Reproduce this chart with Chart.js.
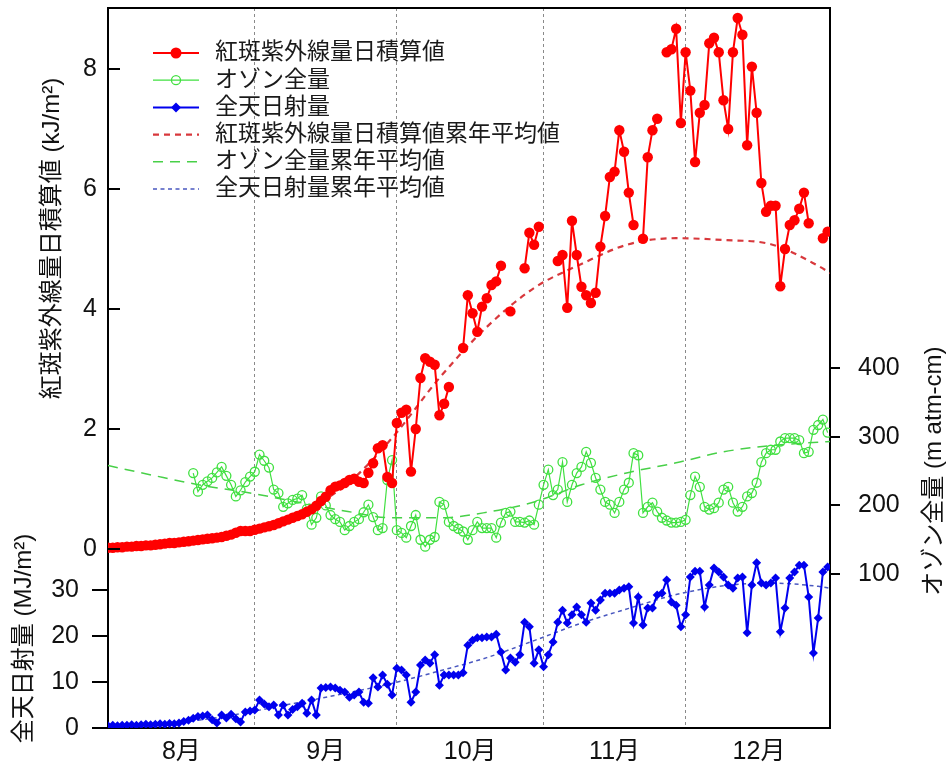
<!DOCTYPE html>
<html><head><meta charset="utf-8">
<script src="https://cdn.jsdelivr.net/npm/chart.js@4.4.0/dist/chart.umd.min.js"></script>
<style>html,body{margin:0;padding:0;background:#fff;}#wrap{width:948px;height:773px;position:relative;}</style>
</head><body><div id="wrap"><canvas id="c"></canvas></div>
<script>
// ---- data (day index 0 = 1 Aug) ----
const monthLabels = ['8月','9月','10月','11月','12月'];
const monthCenters = [15.5, 46, 76.5, 107, 137.5];
const monthStarts = [31, 61, 92, 122];
const uvTicks = [0, 2, 4, 6, 8];
const solarTicks = [0, 10, 20, 30];
const ozoneTicks = [100, 200, 300, 400];
const legendLabels = ['紅斑紫外線量日積算値','オゾン全量','全天日射量','紅斑紫外線量日積算値累年平均値','オゾン全量累年平均値','全天日射量累年平均値'];
const uvTitle = '紅斑紫外線量日積算値 (kJ/m²)';
const solarTitle = '全天日射量 (MJ/m²)';
const ozoneTitle = 'オゾン全量 (m atm-cm)';

const uvDaily = [
 0.02,0.02,0.03,0.03,0.04,0.04,0.05,0.05,0.06,0.06,
 0.07,0.08,0.09,0.10,0.10,0.11,0.12,0.13,0.14,0.15,
 0.16,0.17,0.18,0.19,0.20,0.22,0.24,0.27,0.30,0.30,
 0.30,0.32,0.34,0.36,0.38,0.40,0.43,0.46,0.49,0.52,
 0.55,0.58,0.62,0.66,0.72,0.80,0.87,0.98,1.04,1.06,
 1.10,1.15,1.17,1.12,1.10,1.27,1.43,1.68,1.73,1.20,
 1.10,2.10,2.27,2.32,1.29,2.00,2.85,3.18,3.12,3.07,
 2.23,2.42,2.70,null,null,3.35,4.23,3.93,3.62,4.04,
 4.18,4.40,4.46,4.72,null,3.96,null,null,4.68,5.27,
 5.07,5.37,null,null,null,4.80,4.90,4.02,5.47,4.90,
 4.37,4.23,4.10,4.27,5.04,5.55,6.20,6.29,6.98,6.62,
 5.94,5.40,null,5.17,6.53,6.98,7.17,null,8.28,8.33,
 8.67,7.10,8.28,7.64,6.45,7.27,7.40,8.43,8.52,8.28,
 7.48,7.00,8.28,8.85,8.57,6.73,8.04,7.27,6.10,5.62,
 5.72,5.72,4.38,5.00,5.40,5.48,5.67,5.94,5.43,null,
 null,5.18,5.29
];
const solarDaily = [
 0.5,0.6,0.5,0.6,0.6,0.7,0.6,0.7,0.8,0.7,
 0.8,0.9,0.8,1.0,0.9,1.1,1.4,1.7,2.1,2.5,
 2.6,2.8,1.8,1.1,2.8,2.2,3.0,2.0,1.3,3.5,
 3.7,3.9,6.1,5.2,4.6,5.0,2.8,5.0,2.8,4.0,
 4.6,5.4,3.2,6.1,2.8,8.7,8.8,8.9,8.7,8.2,
 7.8,6.7,7.2,7.8,5.6,5.4,10.9,8.9,11.5,9.5,
 7.2,13.0,12.6,11.5,5.6,7.8,13.7,14.8,14.1,15.9,
 9.3,11.5,11.5,11.5,11.5,12.0,18.0,19.1,19.6,19.6,
 19.8,19.8,20.4,16.5,12.6,15.2,14.3,15.9,23.0,22.0,
 14.1,17.0,13.3,15.9,18.7,23.0,25.6,22.8,24.6,26.3,
 24.6,23.0,27.2,25.6,27.8,29.3,29.3,29.3,30.0,30.4,
 30.7,22.8,28.5,22.4,26.1,26.1,28.9,29.3,32.2,27.4,
 26.7,22.0,24.6,32.8,34.1,34.1,26.3,31.1,34.8,33.9,
 32.8,31.1,30.4,32.6,32.8,20.7,31.1,35.9,31.5,31.1,
 31.5,32.6,20.9,26.1,32.6,33.9,35.4,35.4,28.5,16.3,
 23.9,33.9,35.0
];
const ozoneDaily = [
 null,null,null,null,null,null,null,null,null,null,
 null,null,null,null,null,null,null,null,247,220,
 230,235,240,248,256,243,230,213,222,234,
 242,249,274,265,255,223,218,198,203,208,
 210,215,195,172,182,213,200,186,180,176,
 164,170,176,180,190,201,183,164,167,237,
 266,164,160,153,170,186,150,140,150,154,
 205,201,176,170,166,162,150,164,176,167,
 167,167,153,175,189,191,176,176,175,178,
 172,201,230,252,215,223,263,205,230,247,
 256,278,262,240,223,205,201,189,205,223,
 233,276,273,189,198,204,191,182,178,175,
 175,176,179,215,242,227,198,194,196,204,
 223,227,204,191,198,213,218,233,263,276,
 281,281,293,298,298,298,295,276,278,310,
 317,325,306
];
const climDays = [0,10,20,30,40,50,60,70,80,90,100,110,120,130,140,150,152.5];
const uvClim = [0.03,0.07,0.17,0.32,0.60,1.05,1.85,2.85,3.70,4.35,4.75,5.08,5.18,5.15,5.08,4.72,4.60];
const ozoneClim = [258,243,229,218,205,192,182,182,190,205,230,248,262,278,287,292,293];
const solarClim = [0.5,0.8,1.8,3.5,5.5,7.5,9.7,12.4,15.3,19.0,22.8,26.0,29.0,30.9,31.5,30.8,30.4];

// ---- styles ----
const FONT = "'Liberation Sans', 'Noto Sans CJK JP', sans-serif";
Chart.defaults.font.family = FONT;
Chart.defaults.color = '#111';
const RED = '#ff0000', GREEN = '#40e040', BLUE = '#0000ee';
const RED_D = '#d8383c', GREEN_D = '#48d048', BLUE_D = '#4a58c0';

const daily = arr => arr.map((v, i) => ({x: i, y: v}));
const clim = arr => arr.map((v, i) => ({x: climDays[i], y: v}));
const noPad = s => { s.paddingTop = 0; s.paddingBottom = 0; s.paddingLeft = 0; s.paddingRight = 0; };

const legendStyles = [
  {color: RED, dash: [], width: 2, marker: 'dot'},
  {color: GREEN, dash: [], width: 1.2, marker: 'ring'},
  {color: BLUE, dash: [], width: 2, marker: 'diamond'},
  {color: RED_D, dash: [6, 5], width: 2.2},
  {color: GREEN_D, dash: [10, 7], width: 1.5},
  {color: BLUE_D, dash: [4, 3.5], width: 1.5}
];

function vText(ctx, text, x, y) {
  ctx.save();
  ctx.translate(x, y);
  ctx.rotate(-Math.PI / 2);
  ctx.font = '24px ' + FONT;
  ctx.fillStyle = '#111';
  ctx.textAlign = 'center'; ctx.textBaseline = 'middle';
  ctx.fillText(text, 0, 0);
  ctx.restore();
}

const overlay = {
  id: 'overlay',
  afterDraw(chart) {
    const ctx = chart.ctx, ca = chart.chartArea;
    ctx.save();
    // inward tick marks of the UV axis
    const uv = chart.scales.yUV;
    ctx.strokeStyle = '#000'; ctx.lineWidth = 2;
    uv.ticks.forEach(t => {
      const y = Math.round(uv.getPixelForValue(t.value));
      ctx.beginPath(); ctx.moveTo(ca.left, y); ctx.lineTo(ca.left + 12, y); ctx.stroke();
    });
    // legend
    legendStyles.forEach((s, i) => {
      const y = ca.top + 45 + i * 27.2;
      const x0 = ca.left + 45, x1 = ca.left + 91, xm = (x0 + x1) / 2;
      ctx.beginPath();
      ctx.setLineDash(s.dash);
      ctx.strokeStyle = s.color; ctx.lineWidth = s.width;
      ctx.moveTo(x0, y); ctx.lineTo(x1, y); ctx.stroke();
      ctx.setLineDash([]);
      if (s.marker === 'dot') {
        ctx.beginPath(); ctx.fillStyle = s.color; ctx.arc(xm, y, 5.5, 0, Math.PI * 2); ctx.fill();
      } else if (s.marker === 'ring') {
        ctx.beginPath(); ctx.strokeStyle = s.color; ctx.lineWidth = 1.3; ctx.arc(xm, y, 4.5, 0, Math.PI * 2); ctx.stroke();
      } else if (s.marker === 'diamond') {
        ctx.beginPath(); ctx.fillStyle = s.color;
        ctx.moveTo(xm, y - 5); ctx.lineTo(xm + 5, y); ctx.lineTo(xm, y + 5); ctx.lineTo(xm - 5, y); ctx.closePath(); ctx.fill();
      }
      ctx.fillStyle = '#1a1a1a';
      ctx.font = '23px ' + FONT;
      ctx.textAlign = 'left'; ctx.textBaseline = 'middle';
      ctx.fillText(legendLabels[i], ca.left + 107, y);
    });
    ctx.restore();
    // axis titles (all read bottom to top)
    vText(ctx, uvTitle, 52, (ca.top + uv.bottom) / 2 - 40);
    vText(ctx, ozoneTitle, 934, chart.scales.yOz.getPixelForValue(250));
  }
};

new Chart(document.getElementById('c'), {
  type: 'line',
  data: {
    datasets: [
      {label: legendLabels[0], data: daily(uvDaily), xAxisID: 'x', yAxisID: 'yUV',
       borderColor: RED, borderWidth: 2, pointRadius: 5.2, pointBackgroundColor: RED, pointBorderWidth: 0,
       spanGaps: false, clip: {left: 0, top: 0, right: 0, bottom: 8}},
      {label: legendLabels[2], data: daily(solarDaily), xAxisID: 'x', yAxisID: 'ySolar',
       borderColor: BLUE, borderWidth: 2, pointStyle: 'rectRot', pointRadius: 4.5,
       pointBackgroundColor: BLUE, pointBorderWidth: 0},
      {label: legendLabels[1], data: daily(ozoneDaily), xAxisID: 'x', yAxisID: 'yOz',
       borderColor: GREEN, borderWidth: 1.2, pointRadius: 4.5, pointBackgroundColor: 'rgba(0,0,0,0)',
       pointBorderColor: GREEN, pointBorderWidth: 1.3, spanGaps: false},
      {label: legendLabels[3], data: clim(uvClim), xAxisID: 'x', yAxisID: 'yUV',
       borderColor: RED_D, borderWidth: 2.2, borderDash: [6, 5], pointRadius: 0, cubicInterpolationMode: 'monotone'},
      {label: legendLabels[4], data: clim(ozoneClim), xAxisID: 'x', yAxisID: 'yOz',
       borderColor: GREEN_D, borderWidth: 1.5, borderDash: [10, 7], pointRadius: 0, cubicInterpolationMode: 'monotone'},
      {label: legendLabels[5], data: clim(solarClim), xAxisID: 'x', yAxisID: 'ySolar',
       borderColor: BLUE_D, borderWidth: 1.5, borderDash: [4, 3.5], pointRadius: 0, cubicInterpolationMode: 'monotone'}
    ]
  },
  options: {
    responsive: true, maintainAspectRatio: false, animation: false,
    layout: {padding: 0},
    plugins: {legend: {display: false}, tooltip: {enabled: false}},
    scales: {
      x: {
        type: 'linear', position: 'bottom', min: 0, max: 152.5,
        afterBuildTicks: s => { s.ticks = monthCenters.concat(monthStarts).sort((a, b) => a - b).map(v => ({value: v})); },
        afterFit: s => { s.height = 45; noPad(s); },
        ticks: {autoSkip: false, maxRotation: 0, padding: 9, font: {size: 25}, color: '#111',
          callback: v => { const i = monthCenters.indexOf(v); return i >= 0 ? monthLabels[i] : ''; }},
        grid: {drawTicks: false, lineWidth: 1,
          color: c => (c.tick && monthStarts.includes(c.tick.value)) ? '#8a8a8a' : 'rgba(0,0,0,0)'},
        border: {display: true, color: '#000', width: 2, dash: [3, 3]}
      },
      xTop: {
        type: 'linear', position: 'top', min: 0, max: 1,
        afterFit: s => { s.height = 8; noPad(s); },
        ticks: {display: false}, grid: {display: false, drawTicks: false},
        border: {display: true, color: '#000', width: 2}
      },
      ySolar: {
        type: 'linear', position: 'left', stack: 'left', stackWeight: 179, min: 0, max: 179 / 4.6,
        afterBuildTicks: s => { s.ticks = solarTicks.map(v => ({value: v})); },
        afterFit: s => { s.width = 108; noPad(s); },
        ticks: {autoSkip: false, padding: 13, font: {size: 25}, color: '#111'},
        grid: {drawOnChartArea: false, drawTicks: true, tickLength: 16, color: '#000', lineWidth: 2},
        border: {display: true, color: '#000', width: 2},
        title: {display: true, text: solarTitle, font: {size: 24}, color: '#111', padding: {top: 10, bottom: 0}}
      },
      yUV: {
        type: 'linear', position: 'left', stack: 'left', stackWeight: 541, min: 0, max: 541 / 60,
        afterBuildTicks: s => { s.ticks = uvTicks.map(v => ({value: v})); },
        afterFit: s => { s.width = 108; noPad(s); },
        ticks: {autoSkip: false, padding: 11, font: {size: 25}, color: '#111'},
        grid: {drawOnChartArea: false, drawTicks: false, color: '#000', lineWidth: 2},
        border: {display: true, color: '#000', width: 2}
      },
      yOz: {
        type: 'linear', position: 'right', min: -124, max: 924,
        afterBuildTicks: s => { s.ticks = ozoneTicks.map(v => ({value: v})); },
        afterFit: s => { s.width = 118; noPad(s); },
        ticks: {autoSkip: false, padding: 18, font: {size: 25}, color: '#111'},
        grid: {drawOnChartArea: false, drawTicks: true, tickLength: 10, color: '#000', lineWidth: 2},
        border: {display: true, color: '#000', width: 2}
      }
    }
  },
  plugins: [overlay]
});
</script></body></html>
